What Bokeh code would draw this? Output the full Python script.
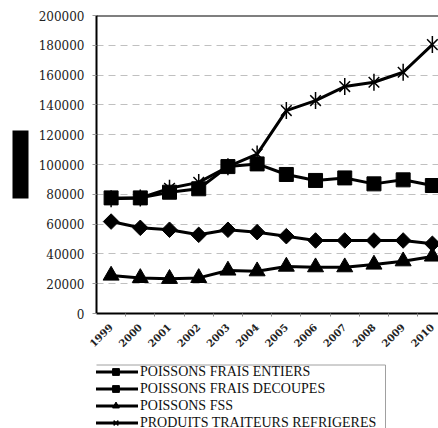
import math
from bokeh.plotting import figure
from bokeh.layouts import column
from bokeh.models import (Range1d, FixedTicker, Span, Legend, LegendItem,
                          Title, NumeralTickFormatter)
from bokeh.embed import file_html
from bokeh.resources import INLINE

years = ["1999", "2000", "2001", "2002", "2003", "2004",
         "2005", "2006", "2007", "2008", "2009", "2010"]
frais_entiers = [61700, 57500, 56200, 52800, 56200, 54600,
                 51900, 49000, 49000, 49000, 49000, 46800]
frais_decoupes = [77600, 77600, 81400, 83700, 98600, 100400,
                  93300, 89300, 91000, 87000, 89700, 85900]
fss = [25500, 23900, 23300, 23900, 28900, 28400,
       31500, 31100, 31100, 32900, 35100, 38300]
traiteurs = [77000, 77500, 84000, 88000, 98500, 107000,
             136200, 142900, 152300, 155200, 161900, 180500]
y_ticks = [0, 20000, 40000, 60000, 80000, 100000,
           120000, 140000, 160000, 180000, 200000]
series_labels = ["POISSONS FRAIS ENTIERS", "POISSONS FRAIS DECOUPES",
                 "POISSONS FSS", "PRODUITS TRAITEURS REFRIGERES"]

xs = list(range(len(years)))

p = figure(width=438, height=363, output_backend="svg", toolbar_location=None,
           x_range=Range1d(-0.5, 11.21), y_range=Range1d(0, 200000),
           min_border_left=96, min_border_right=0, min_border_top=15,
           min_border_bottom=50)
p.outline_line_color = None
p.background_fill_color = "white"
p.border_fill_color = "white"

# y axis
p.yaxis.ticker = FixedTicker(ticks=y_ticks)
p.yaxis.formatter = NumeralTickFormatter(format="0")
p.yaxis.axis_line_color = "black"
p.yaxis.axis_line_width = 2
p.yaxis.major_tick_line_color = "#999999"
p.yaxis.major_tick_out = 4
p.yaxis.major_tick_in = 0
p.yaxis.minor_tick_line_color = None
p.yaxis.major_label_text_font = "DejaVu Serif"
p.yaxis.major_label_text_font_size = "12px"
p.yaxis.major_label_text_color = "#222222"
p.yaxis.major_label_standoff = 8

# x axis
p.xaxis.ticker = FixedTicker(ticks=xs, minor_ticks=[i + 0.5 for i in xs])
p.xaxis.major_label_overrides = {i: y for i, y in enumerate(years)}
p.xaxis.major_label_orientation = math.pi / 4
p.xaxis.major_label_text_font = "DejaVu Serif"
p.xaxis.major_label_text_font_size = "10px"
p.xaxis.major_label_text_font_style = "bold"
p.xaxis.major_label_text_color = "#222222"
p.xaxis.axis_line_color = "black"
p.xaxis.axis_line_width = 2
p.xaxis.major_tick_line_color = None
p.xaxis.minor_tick_line_color = "#888888"
p.xaxis.minor_tick_out = 3
p.xaxis.minor_tick_in = 0
p.xaxis.major_label_standoff = 6

p.xgrid.grid_line_color = None
p.ygrid.ticker = FixedTicker(ticks=y_ticks[1:-1])
p.ygrid.grid_line_color = "#c0c0c0"
p.ygrid.grid_line_dash = "7 5"
p.ygrid.grid_line_width = 1

p.add_layout(Span(location=200000, dimension="width", line_color="black", line_width=2))

# black block (y-axis title area)
p.add_layout(Title(text="\u00a0" * 14, align="center", text_font="DejaVu Sans",
                   text_font_size="14px", text_color="black", standoff=14,
                   background_fill_color="black", background_fill_alpha=1), "left")

lw = 3
styles = [
    dict(marker="square", angle=math.pi / 4, size=11, fill_color="black", line_color="black"),
    dict(marker="square", size=14, fill_color="black", line_color="black"),
    dict(marker="triangle", size=16, fill_color="black", line_color="black"),
]
series = [frais_entiers, frais_decoupes, fss, traiteurs]
for i in range(3):
    p.line(xs, series[i], line_color="black", line_width=lw)
    p.scatter(xs, series[i], **styles[i])
p.line(xs, traiteurs, line_color="black", line_width=lw)
p.scatter(xs, traiteurs, marker="x", size=15, line_color="black", line_width=1.5)
p.scatter(xs, traiteurs, marker="dash", angle=math.pi / 2, size=17,
          line_color="black", line_width=1.5)

# legend strip below the chart (its frame is aligned with the chart's frame)
p2 = figure(width=438, height=65, output_backend="svg", toolbar_location=None,
            x_range=Range1d(96, 438), y_range=Range1d(65, 0),
            min_border=0, x_axis_type=None, y_axis_type=None)
p2.outline_line_color = None
p2.grid.visible = False
p2.background_fill_color = "white"
p2.border_fill_color = "white"

# legend box border (top and right edges)
p2.line([85, 385, 385], [1.5, 1.5, 80], line_color="#a0a0a0", line_width=1)

off = [-100]
items = []
for i in range(3):
    ln = p2.line(off, off, line_color="black", line_width=lw)
    mk = p2.scatter(off, off, **styles[i])
    items.append(LegendItem(label=series_labels[i], renderers=[ln, mk]))
ln = p2.line(off, off, line_color="black", line_width=lw)
mk1 = p2.scatter(off, off, marker="x", size=15, line_color="black", line_width=1.5)
mk2 = p2.scatter(off, off, marker="dash", angle=math.pi / 2, size=17,
                 line_color="black", line_width=1.5)
items.append(LegendItem(label=series_labels[3], renderers=[ln, mk1, mk2]))

legend = Legend(items=items, location=(-3, -3))
legend.label_text_font = "Liberation Serif"
legend.label_text_font_size = "14px"
legend.label_text_color = "#111111"
legend.glyph_width = 45
legend.glyph_height = 17
legend.label_height = 17
legend.label_standoff = 2
legend.spacing = 0
legend.padding = 0
legend.margin = 0
legend.border_line_color = None
legend.background_fill_alpha = 0
p2.add_layout(legend)

layout = column(p, p2, spacing=0)
open("out.html", "w").write(file_html(layout, INLINE))
